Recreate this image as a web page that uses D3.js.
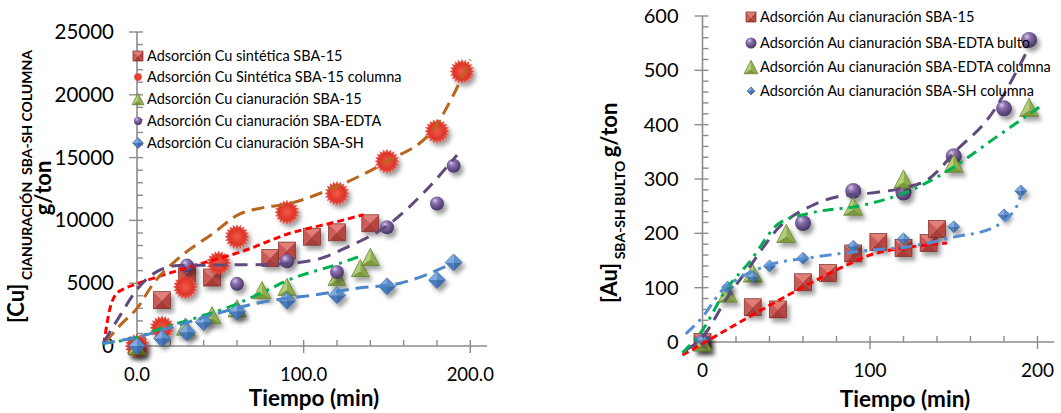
<!DOCTYPE html>
<html>
<head>
<script src="https://d3js.org/d3.v7.min.js"></script>
<style>
  body { margin: 0; background: #fff; font-family: Lato, "Open Sans", sans-serif; }
  svg text { font-family: Lato, "Open Sans", sans-serif; fill: #000; }
</style>
</head>
<body>
<div id="chart"></div>
<script>
// ---------- left panel : Cu ----------
const cuXTicks = [0, 100, 200];
const cuYTicks = [0, 5000, 10000, 15000, 20000, 25000];

const cuSintT = [0, 15, 30, 45, 80, 90, 105, 120, 140];
const cuSintV = [0, 3650, 5800, 5450, 7000, 7600, 8700, 9050, 9770];
const cuColT = [0, 15, 29, 49, 60, 90, 120, 150, 180, 195];
const cuColV = [0, 1450, 4700, 6600, 8700, 10650, 12150, 14700, 17100, 21850];
const cuSba15T = [0, 29, 45, 60, 75, 90, 120, 134, 140];
const cuSba15V = [0, 1550, 2450, 3000, 4450, 4700, 5500, 6200, 7100];
const cuEdtaT = [30, 60, 90, 120, 150, 180, 190];
const cuEdtaV = [6400, 4950, 6750, 5900, 9450, 11350, 14350];
const cuShT = [0, 15, 30, 40, 60, 90, 120, 150, 180, 190];
const cuShV = [0, 600, 1100, 1900, 2750, 3600, 4050, 4750, 5250, 6650];

// trend lines
const cuSintFitT = [-20, -16, -13, -7, 0, 35, 65, 90, 120, 136];
const cuSintFitV = [100, 3100, 4050, 4600, 4950, 6430, 7620, 8900, 9900, 10450];
const cuColFitT = [-19, -9, 0, 10, 25, 46, 60, 75, 90, 118, 150, 178, 200];
const cuColFitV = [300, 1800, 3000, 5000, 7000, 9000, 10400, 11000, 11300, 12600, 14700, 17300, 22800];
const cuEdtaFitT = [-20, -10, 0, 13, 25, 50, 80, 106, 126, 152, 172, 192];
const cuEdtaFitV = [300, 2460, 4500, 6000, 6400, 6450, 6500, 6830, 7860, 9770, 12200, 15200];
const cuSba15FitT = [-21, 0, 15, 35, 55, 79, 90, 120, 135];
const cuSba15FitV = [200, 700, 1430, 2220, 3100, 4500, 5200, 6500, 7200];
const cuShFitT = [-21, 0, 25, 51, 75, 95, 106, 132, 158, 176, 188];
const cuShFitV = [200, 700, 1670, 2700, 3490, 3890, 4050, 4600, 5000, 5800, 6500];

// ---------- right panel : Au ----------
const auXTicks = [0, 100, 200];
const auYTicks = [0, 100, 200, 300, 400, 500, 600];

const auSba15T = [0, 30, 45, 60, 75, 90, 105, 120, 135, 140];
const auSba15V = [0, 64, 60, 110, 127, 163, 184, 173, 182, 208];
const auEdtaBT = [0, 60, 90, 120, 150, 180, 195];
const auEdtaBV = [0, 219, 278, 275, 342, 430, 556];
const auEdtaCT = [0, 15, 30, 50, 90, 120, 150, 195];
const auEdtaCV = [0, 90, 127, 200, 250, 300, 329, 432];
const auShT = [0, 15, 30, 40, 60, 90, 120, 150, 180, 190];
const auShV = [3, 101, 120, 140, 154, 176, 190, 212, 234, 278];

const auSba15FitT = [-12, 0, 30, 60, 90, 100, 120, 146];
const auSba15FitV = [-24, -3, 50, 101, 147, 160, 173, 182];
const auEdtaBFitT = [-10, 0, 15, 28, 46, 66, 80, 100, 122, 134, 153, 170, 195];
const auEdtaBFitV = [-15, 9, 83, 138, 212, 252, 267, 274, 285, 298, 357, 409, 543];
const auEdtaCFitT = [-12, 0, 14, 28, 46, 64, 96, 122, 150, 173, 201];
const auEdtaCFitV = [-20, 22, 96, 147, 219, 237, 252, 276, 322, 372, 432];
const auShFitT = [-10, 0, 12, 24, 40, 64, 100, 122, 150, 173, 188, 190];
const auShFitV = [15, 46, 96, 121, 142, 155, 169, 175, 193, 210, 252, 270];

const zip = (a, b) => a.map((t, i) => [t, b[i]]);

const svg = d3.select("#chart").append("svg")
  .attr("width", 1061).attr("height", 413);

const defs = svg.append("defs");
const sh = defs.append("filter").attr("id", "shadow")
  .attr("x", "-60%").attr("y", "-60%").attr("width", "250%").attr("height", "250%");
sh.append("feDropShadow").attr("dx", 3).attr("dy", 4).attr("stdDeviation", 2.2)
  .attr("flood-color", "#000").attr("flood-opacity", 0.38);

const sg = defs.append("radialGradient").attr("id", "sphere")
  .attr("cx", "40%").attr("cy", "35%").attr("r", "65%").attr("fx", "35%").attr("fy", "28%");
sg.append("stop").attr("offset", "0%").attr("stop-color", "#d8cae9");
sg.append("stop").attr("offset", "35%").attr("stop-color", "#8a70b0");
sg.append("stop").attr("offset", "100%").attr("stop-color", "#463462");

const stg = defs.append("radialGradient").attr("id", "star");
stg.append("stop").attr("offset", "0%").attr("stop-color", "#f25a48");
stg.append("stop").attr("offset", "65%").attr("stop-color", "#de3529");
stg.append("stop").attr("offset", "100%").attr("stop-color", "#e8564a");

// ---------- marker painters ----------
function pathOf(pts) { return "M" + pts.map(p => p.join(",")).join("L") + "Z"; }

function drawSquare(g, s) {
  const h = s / 2;
  g.append("path").attr("d", pathOf([[-h, -h], [h, -h], [0, 0]])).attr("fill", "#e27e78");
  g.append("path").attr("d", pathOf([[h, -h], [h, h], [0, 0]])).attr("fill", "#b8443f");
  g.append("path").attr("d", pathOf([[h, h], [-h, h], [0, 0]])).attr("fill", "#a83c37");
  g.append("path").attr("d", pathOf([[-h, h], [-h, -h], [0, 0]])).attr("fill", "#cc5a55");
  g.append("rect").attr("x", -h).attr("y", -h).attr("width", s).attr("height", s)
    .attr("fill", "none").attr("stroke", "#7a2c2a").attr("stroke-width", 0.7);
}
function drawTriangle(g, s) {
  const w = s / 2, h = s * 0.48, c = [0, h * 0.35];
  const a = [0, -h], bl = [-w, h], br = [w, h];
  g.append("path").attr("d", pathOf([a, bl, c])).attr("fill", "#b3cf77");
  g.append("path").attr("d", pathOf([a, br, c])).attr("fill", "#8fad4c");
  g.append("path").attr("d", pathOf([bl, br, c])).attr("fill", "#7b9a3c");
  g.append("path").attr("d", pathOf([a, bl, br])).attr("fill", "none")
    .attr("stroke", "#5d7828").attr("stroke-width", 0.7);
}
function drawDiamond(g, s) {
  const h = s / 2;
  const t = [0, -h], r = [h, 0], b = [0, h], l = [-h, 0], c = [0, 0];
  g.append("path").attr("d", pathOf([l, t, c])).attr("fill", "#80aae0");
  g.append("path").attr("d", pathOf([t, r, c])).attr("fill", "#5b8ecf");
  g.append("path").attr("d", pathOf([r, b, c])).attr("fill", "#3c6dab");
  g.append("path").attr("d", pathOf([b, l, c])).attr("fill", "#4a7cbc");
  g.append("path").attr("d", pathOf([t, r, b, l])).attr("fill", "none")
    .attr("stroke", "#2f5a8f").attr("stroke-width", 0.6);
}
function drawSphere(g, s) {
  g.append("circle").attr("r", s / 2).attr("fill", "url(#sphere)");
}
function drawStar(g, s) {
  const n = 20, ro = s / 2, ri = s / 2 * 0.76;
  const pts = d3.range(n * 2).map(i => {
    const r = i % 2 ? ri : ro, a = Math.PI * i / n;
    return [r * Math.sin(a), -r * Math.cos(a)];
  });
  g.append("path").attr("d", pathOf(pts)).attr("fill", "url(#star)")
    .attr("stroke", "#e4483c").attr("stroke-width", 0.5);
}

// ---------- panel builder ----------
function panel(cfg) {
  const x = d3.scaleLinear().domain([0, 200]).range(cfg.xr);
  const y = d3.scaleLinear().domain([0, cfg.ymax]).range(cfg.yr);
  const g = svg.append("g");
  const axisCol = "#8c8c8c";

  // axes
  g.append("line").attr("x1", x(0)).attr("x2", x(210)).attr("y1", y(0)).attr("y2", y(0))
    .attr("stroke", axisCol).attr("stroke-width", 1.6);
  g.append("line").attr("x1", x(0)).attr("x2", x(0)).attr("y1", y(0)).attr("y2", y(cfg.ymax))
    .attr("stroke", axisCol).attr("stroke-width", 1.6);

  d3.range(0, 211, 20).forEach(v => {
    const major = v % 100 === 0;
    g.append("line").attr("x1", x(v)).attr("x2", x(v))
      .attr("y1", y(0) - 6).attr("y2", y(0) + (major ? 7 : 0))
      .attr("stroke", axisCol).attr("stroke-width", 1.4);
  });
  d3.range(0, cfg.ymax + 1, cfg.minor).forEach(v => {
    const major = v % cfg.major === 0;
    g.append("line").attr("y1", y(v)).attr("y2", y(v))
      .attr("x1", x(0) - (major ? 8 : 0)).attr("x2", x(0) + 6)
      .attr("stroke", axisCol).attr("stroke-width", 1.4);
  });

  g.selectAll(".yl").data(cfg.yTicks).enter().append("text")
    .attr("x", x(0) - cfg.yLabGap).attr("y", d => y(d) + 7)
    .attr("text-anchor", "end").attr("font-size", cfg.yFont).text(d => d);
  g.selectAll(".xl").data(cfg.xTicks).enter().append("text")
    .attr("x", d => x(d)).attr("y", cfg.xLabY)
    .attr("text-anchor", "middle").attr("font-size", cfg.xFont).text(cfg.xFmt);

  g.append("text").attr("x", cfg.titleX).attr("y", cfg.titleY)
    .attr("text-anchor", "middle").attr("font-size", 22.5).attr("font-weight", "bold")
    .text("Tiempo (min)");

  // markers
  cfg.series.forEach(s => {
    zip(s.t, s.v).forEach(([t, v]) => {
      const mg = g.append("g").attr("transform", `translate(${x(t)},${y(v)})`)
        .attr("filter", "url(#shadow)");
      s.draw(mg, s.size);
    });
  });

  // trend lines
  const line = d3.line().x(d => x(d[0])).y(d => y(d[1])).curve(d3.curveMonotoneX);
  cfg.fits.forEach(f => {
    g.append("path").attr("d", line(zip(f.t, f.v)))
      .attr("fill", "none").attr("stroke", f.color).attr("stroke-width", 3)
      .attr("stroke-dasharray", f.dash);
  });

  // legend
  cfg.series.forEach((s, i) => {
    const ly = cfg.legY[i];
    const mg = g.append("g").attr("transform", `translate(${cfg.legMX},${ly})`);
    s.draw(mg, s.legSize);
    g.append("text").attr("x", cfg.legTX).attr("y", ly + 5)
      .attr("font-size", 14.5).text(s.name);
  });
  return g;
}

panel({
  xr: [137, 470.3], yr: [346, 32], ymax: 25000, minor: 1000, major: 5000,
  yTicks: cuYTicks, xTicks: cuXTicks, xFmt: d3.format(".1f"),
  yLabGap: 23, yFont: 20.5, xFont: 18.5, xLabY: 381, titleX: 314, titleY: 406,
  legMX: 138, legTX: 147, legY: [56, 77, 99, 121, 143],
  series: [
    { name: "Adsorción Cu sintética SBA-15", t: cuSintT, v: cuSintV, draw: drawSquare, size: 17, legSize: 10 },
    { name: "Adsorción Cu Sintética SBA-15 columna", t: cuColT, v: cuColV, draw: drawStar, size: 24, legSize: 8 },
    { name: "Adsorción Cu cianuración SBA-15", t: cuSba15T, v: cuSba15V, draw: drawTriangle, size: 18, legSize: 12 },
    { name: "Adsorción Cu cianuración SBA-EDTA", t: cuEdtaT, v: cuEdtaV, draw: drawSphere, size: 14, legSize: 8 },
    { name: "Adsorción Cu cianuración SBA-SH", t: cuShT, v: cuShV, draw: drawDiamond, size: 17, legSize: 11 }
  ],
  fits: [
    { t: cuSintFitT, v: cuSintFitV, color: "#ff0000", dash: "7,4" },
    { t: cuColFitT, v: cuColFitV, color: "#b8651e", dash: "13,7" },
    { t: cuSba15FitT, v: cuSba15FitV, color: "#00b050", dash: "11,6,3,6" },
    { t: cuEdtaFitT, v: cuEdtaFitV, color: "#604a7b", dash: "13,8" },
    { t: cuShFitT, v: cuShFitV, color: "#4a86c8", dash: "13,7" }
  ]
});

panel({
  xr: [702.5, 1037.5], yr: [342, 16], ymax: 600, minor: 20, major: 100,
  yTicks: auYTicks, xTicks: auXTicks, xFmt: d3.format("d"),
  yLabGap: 24, yFont: 20, xFont: 19, xLabY: 377, titleX: 905, titleY: 407,
  legMX: 751, legTX: 760, legY: [17, 43, 67, 91],
  series: [
    { name: "Adsorción Au cianuración SBA-15", t: auSba15T, v: auSba15V, draw: drawSquare, size: 17, legSize: 10 },
    { name: "Adsorción Au cianuración SBA-EDTA bulto", t: auEdtaBT, v: auEdtaBV, draw: drawSphere, size: 16, legSize: 11 },
    { name: "Adsorción Au cianuración SBA-EDTA columna", t: auEdtaCT, v: auEdtaCV, draw: drawTriangle, size: 19, legSize: 14 },
    { name: "Adsorción Au cianuración SBA-SH columna", t: auShT, v: auShV, draw: drawDiamond, size: 12, legSize: 8 }
  ],
  fits: [
    { t: auSba15FitT, v: auSba15FitV, color: "#ff0000", dash: "7,4" },
    { t: auEdtaBFitT, v: auEdtaBFitV, color: "#604a7b", dash: "13,8" },
    { t: auEdtaCFitT, v: auEdtaCFitV, color: "#00b050", dash: "11,6,3,6" },
    { t: auShFitT, v: auShFitV, color: "#558ed5", dash: "12,6,3,6" }
  ]
});

// y axis titles (rotated, reading bottom to top)
const lt = svg.append("text").attr("transform", "translate(24,323) rotate(-90)")
  .attr("font-weight", "bold");
lt.append("tspan").attr("font-size", 22).text("[Cu]");
lt.append("tspan").attr("font-size", 14).attr("dy", 8).text(" CIANURACIÓN\u00a0 SBA-SH COLUMNA");
svg.append("text").attr("transform", "translate(51,188) rotate(-90)")
  .attr("text-anchor", "middle").attr("font-weight", "bold").attr("font-size", 22)
  .text("g/ton");

const rt = svg.append("text").attr("transform", "translate(617,303) rotate(-90)")
  .attr("font-weight", "bold");
rt.append("tspan").attr("font-size", 22).text("[Au]");
rt.append("tspan").attr("font-size", 14).attr("dy", 8).text(" SBA-SH BULTO ");
rt.append("tspan").attr("font-size", 22).attr("dy", -8).text("g/ton");
</script>
</body>
</html>
